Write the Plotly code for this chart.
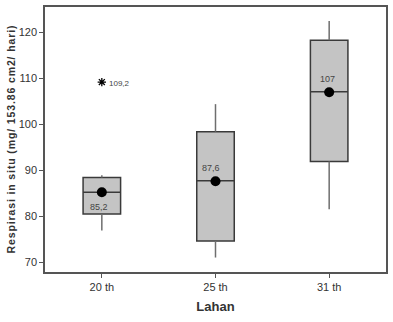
import plotly.graph_objects as go

categories = ["20 th", "25 th", "31 th"]
q1 = [80.5, 74.6, 91.9]
median = [85.2, 87.7, 107.1]
q3 = [88.4, 98.4, 118.3]
whisker_low = [76.9, 71.0, 81.5]
whisker_high = [88.9, 104.4, 122.5]
means = [85.2, 87.6, 107.0]
mean_labels = ["85,2", "87,6", "107"]
outlier_cat = ["20 th"]
outlier_val = [109.2]
outlier_labels = ["109,2"]
y_title = "Respirasi in situ (mg/ 153.86 cm2/ hari)"

font_family = "Liberation Sans Narrow, Arial Narrow, Liberation Sans, Arial, sans-serif"

fig = go.Figure()

# whiskers
for c, lo, hi, a, b in zip(categories, whisker_low, whisker_high, q1, q3):
    fig.add_trace(go.Scatter(x=[c, c], y=[lo, a], mode="lines",
                             line=dict(color="#6e6e6e", width=1.5),
                             showlegend=False, hoverinfo="skip"))
    fig.add_trace(go.Scatter(x=[c, c], y=[b, hi], mode="lines",
                             line=dict(color="#6e6e6e", width=1.5),
                             showlegend=False, hoverinfo="skip"))

fig.add_trace(go.Box(
    x=categories, q1=q1, median=median, q3=q3,
    lowerfence=q1, upperfence=q3,
    fillcolor="#c4c4c4", line=dict(color="#3a3a3a", width=1.5),
    width=0.33, boxpoints=False, showlegend=False, whiskerwidth=0,
))

fig.add_trace(go.Scatter(
    x=categories, y=means, mode="markers",
    marker=dict(color="black", size=10),
    showlegend=False,
))

fig.add_trace(go.Scatter(
    x=outlier_cat, y=outlier_val, mode="markers",
    marker=dict(symbol="asterisk-open", color="black", size=7,
                line=dict(color="black", width=1.3)),
    showlegend=False,
))

# labels
fig.add_annotation(x=categories[0], y=means[0], text=mean_labels[0], showarrow=False,
                   xshift=-3, yshift=-15, font=dict(size=9, color="#444", family=font_family))
fig.add_annotation(x=categories[1], y=means[1], text=mean_labels[1], showarrow=False,
                   xshift=-5, yshift=13, font=dict(size=9, color="#444", family=font_family))
fig.add_annotation(x=categories[2], y=means[2], text=mean_labels[2], showarrow=False,
                   xshift=-2, yshift=13, font=dict(size=9, color="#444", family=font_family))
fig.add_annotation(x=outlier_cat[0], y=outlier_val[0], text=outlier_labels[0], showarrow=False,
                   xanchor="left", xshift=5, yshift=-1,
                   font=dict(size=8, color="#444", family=font_family))

spaced_title = "\u200a".join(y_title)

fig.update_layout(
    width=393, height=322,
    margin=dict(l=45, r=5, t=5, b=50),
    plot_bgcolor="white", paper_bgcolor="white",
    font=dict(family=font_family, color="#333", size=11),
)
fig.update_xaxes(
    type="category", range=[-0.5, 2.5],
    showline=True, mirror=True, linecolor="#555", linewidth=1.5,
    ticks="outside", ticklen=4, tickcolor="#555", showgrid=False,
    tickfont=dict(size=11, color="#333"),
    title=dict(text="<b>Lahan</b>", font=dict(size=13, color="#333"), standoff=10),
)
fig.update_yaxes(
    range=[67.85, 125.55], tickvals=[70, 80, 90, 100, 110, 120],
    showline=True, mirror=True, linecolor="#555", linewidth=1.5,
    ticks="outside", ticklen=4, tickcolor="#555", showgrid=False, zeroline=False,
    tickfont=dict(size=11, color="#333"),
    title=dict(text="<b>" + spaced_title + "</b>",
               font=dict(size=10.5, color="#333"), standoff=1),
)

fig.write_html("out.html")
